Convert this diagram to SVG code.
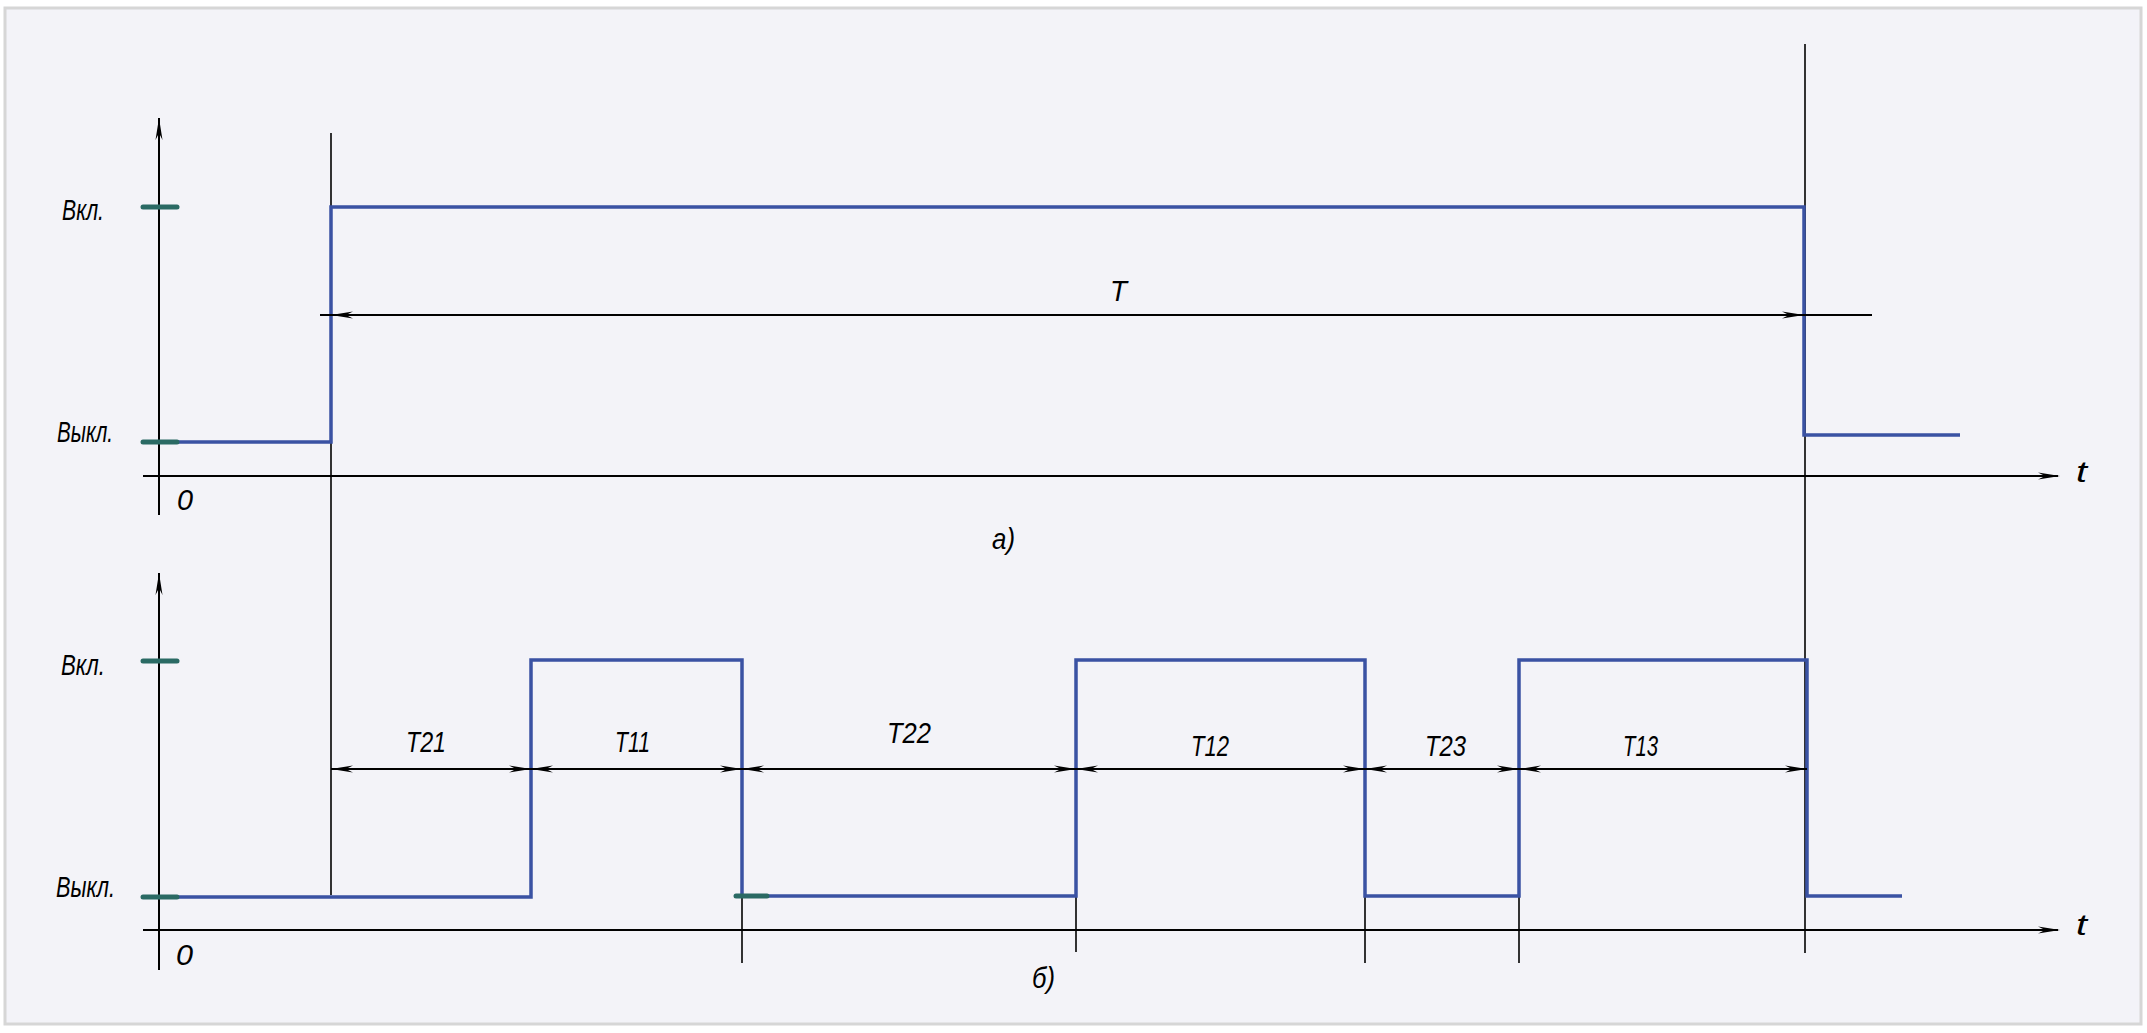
<svg xmlns="http://www.w3.org/2000/svg" width="2147" height="1033" viewBox="0 0 2147 1033">
<style>
.ax{stroke:#000;stroke-width:2;fill:none}
.ext{stroke:#000;stroke-width:1.6;fill:none}
.dim{stroke:#000;stroke-width:2;fill:none}
.sig{stroke:#3a52a3;stroke-width:3.5;fill:none;stroke-linejoin:miter}
.tick{stroke:#2a6a64;stroke-width:5;stroke-linecap:round}
.lbl{font-family:"Liberation Sans",Arial,sans-serif;font-style:italic;font-size:30px;fill:#000}
</style>
<defs>
<path id="ah" d="M0,0 L-22,-3.5 L-15,0 L-22,3.5 Z" fill="#000"/>
</defs>
<rect x="0" y="0" width="2147" height="1033" fill="#ffffff"/>
<rect x="5" y="8" width="2136" height="1016" fill="#f3f3f8" stroke="#d6d6d6" stroke-width="3"/>

<g id="axes-a">
<line class="ax" x1="159" y1="118" x2="159" y2="515"/>
<line class="ax" x1="143" y1="476" x2="2058" y2="476"/>
<use href="#ah" transform="translate(159,118) rotate(-90)"/>
<use href="#ah" transform="translate(2060,476)"/>
</g>
<g id="axes-b">
<line class="ax" x1="159" y1="573" x2="159" y2="970"/>
<line class="ax" x1="143" y1="930" x2="2058" y2="930"/>
<use href="#ah" transform="translate(159,573) rotate(-90)"/>
<use href="#ah" transform="translate(2060,930)"/>
</g>

<g id="extension-lines">
<line class="ext" x1="331" y1="133" x2="331" y2="895"/>
<line class="ext" x1="1805" y1="44" x2="1805" y2="953"/>
<line class="ext" x1="742" y1="896" x2="742" y2="963"/>
<line class="ext" x1="1076" y1="660" x2="1076" y2="952"/>
<line class="ext" x1="1365" y1="896" x2="1365" y2="963"/>
<line class="ext" x1="1519" y1="896" x2="1519" y2="963"/>
</g>

<g id="signal-a">
<path class="sig" d="M159,442 H331 V207 H1804 V435 H1960"/>
<line class="tick" x1="143" y1="207" x2="177" y2="207"/>
<line class="tick" x1="143" y1="442" x2="177" y2="442"/>
</g>

<g id="signal-b">
<path class="sig" d="M159,897 H531 V660 H742 V896 H1076 V660 H1365 V896 H1519 V660 H1807 V896 H1902"/>
<line class="tick" x1="143" y1="661" x2="177" y2="661"/>
<line class="tick" x1="143" y1="897" x2="177" y2="897"/>
<line class="tick" x1="736" y1="896" x2="767" y2="896"/>
</g>

<g id="connectors">
<line class="dim" x1="320" y1="315" x2="1872" y2="315"/>
<use href="#ah" transform="translate(331,315) rotate(180)"/>
<use href="#ah" transform="translate(1804,315)"/>
<line class="dim" x1="331" y1="769" x2="1807" y2="769"/>
<use href="#ah" transform="translate(331,769) rotate(180)"/>
<use href="#ah" transform="translate(531,769)"/>
<use href="#ah" transform="translate(531,769) rotate(180)"/>
<use href="#ah" transform="translate(742,769)"/>
<use href="#ah" transform="translate(742,769) rotate(180)"/>
<use href="#ah" transform="translate(1076,769)"/>
<use href="#ah" transform="translate(1076,769) rotate(180)"/>
<use href="#ah" transform="translate(1365,769)"/>
<use href="#ah" transform="translate(1365,769) rotate(180)"/>
<use href="#ah" transform="translate(1519,769)"/>
<use href="#ah" transform="translate(1519,769) rotate(180)"/>
<use href="#ah" transform="translate(1807,769)"/>
</g>

<g id="labels">
<text class="lbl" x="62" y="220" textLength="42" lengthAdjust="spacingAndGlyphs">Вкл.</text>
<text class="lbl" x="57" y="442" textLength="56" lengthAdjust="spacingAndGlyphs">Выкл.</text>
<text class="lbl" x="61" y="675" textLength="44" lengthAdjust="spacingAndGlyphs">Вкл.</text>
<text class="lbl" x="56" y="897" textLength="59" lengthAdjust="spacingAndGlyphs">Выкл.</text>
<text class="lbl" x="177" y="510" textLength="16" lengthAdjust="spacingAndGlyphs">0</text>
<text class="lbl" x="176" y="965" textLength="17" lengthAdjust="spacingAndGlyphs">0</text>
<text class="lbl" x="1110" y="301" textLength="17" lengthAdjust="spacingAndGlyphs">T</text>
<text class="lbl" x="2076" y="482" textLength="11" lengthAdjust="spacingAndGlyphs">t</text>
<text class="lbl" x="2076" y="935" textLength="11" lengthAdjust="spacingAndGlyphs">t</text>
<text class="lbl" x="992" y="549" textLength="23" lengthAdjust="spacingAndGlyphs">а)</text>
<text class="lbl" x="1032" y="988" textLength="23" lengthAdjust="spacingAndGlyphs">б)</text>
<text class="lbl" x="406" y="752" textLength="40" lengthAdjust="spacingAndGlyphs">T21</text>
<text class="lbl" x="615" y="752" textLength="35" lengthAdjust="spacingAndGlyphs">T11</text>
<text class="lbl" x="887" y="743" textLength="44" lengthAdjust="spacingAndGlyphs">T22</text>
<text class="lbl" x="1191" y="756" textLength="38" lengthAdjust="spacingAndGlyphs">T12</text>
<text class="lbl" x="1425" y="756" textLength="41" lengthAdjust="spacingAndGlyphs">T23</text>
<text class="lbl" x="1623" y="756" textLength="35" lengthAdjust="spacingAndGlyphs">T13</text>
</g>
</svg>
